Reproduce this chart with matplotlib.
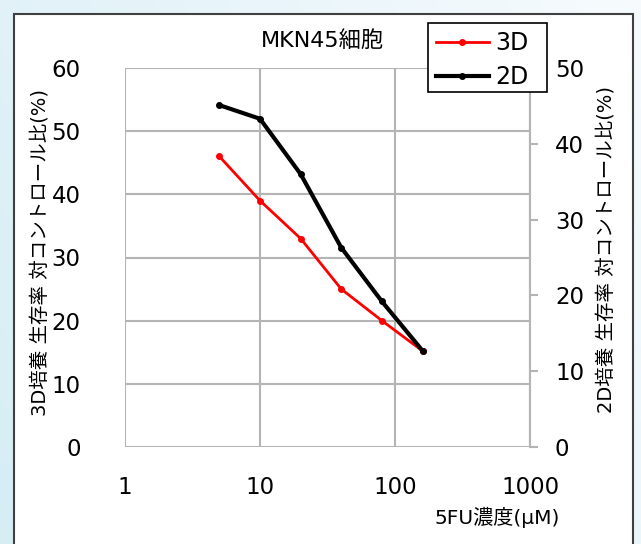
import numpy as np
import matplotlib
matplotlib.use("Agg")
import matplotlib.pyplot as plt
from matplotlib.patches import Rectangle

plt.rcParams['font.family'] = ['DejaVu Sans', 'Noto Sans CJK JP']

# 5FU concentration (uM)
conc = [5, 10, 20, 40, 80, 160]
# survival relative to control (%)
survival_3d = [46, 39, 33, 25, 20, 15.2]
survival_2d = [45.1, 43.3, 36.0, 26.3, 19.2, 12.7]

x_ticks = [1, 10, 100, 1000]
x_tick_labels = ["1", "10", "100", "1000"]
left_ticks = [0, 10, 20, 30, 40, 50, 60]
right_ticks = [0, 10, 20, 30, 40, 50]

W, H = 641, 544
fig = plt.figure(figsize=(W / 100, H / 100), dpi=100)

# soft bluish page background
bg = fig.add_axes([0, 0, 1, 1], zorder=-10)
gx = np.linspace(0, 1, 200)
gy = np.linspace(0, 1, 200)
GX, GY = np.meshgrid(gx, gy)
tone = np.clip(1 - 0.6 * GX - 0.3 * (1 - GY), 0, 1)
c0 = np.array([0.98, 0.99, 1.0])
c1 = np.array([0.84, 0.93, 0.96])
img = c0[None, None, :] * (1 - tone[..., None]) + c1[None, None, :] * tone[..., None]
bg.imshow(img, extent=[0, 1, 0, 1], aspect='auto', origin='upper')
bg.set_axis_off()

# white chart panel
panel = Rectangle((14 / W, -0.05), (633 - 14) / W, (H - 14) / H + 0.05,
                  transform=fig.transFigure, facecolor='white',
                  edgecolor='#404040', linewidth=1.5, zorder=-5)
fig.patches.append(panel)

L, R, T, B = 125, 530, 68, 447
ax = fig.add_axes([L / W, (H - B) / H, (R - L) / W, (B - T) / H])
ax.set_facecolor('none')
ax.set_xscale('log')
ax.set_xlim(1, 1000)
ax.set_ylim(0, 60)
ax.set_xticks(x_ticks)
ax.set_xticklabels(x_tick_labels)
ax.minorticks_off()
ax.set_yticks(left_ticks)
ax.grid(True, color='#b4b4b4', linewidth=1.5)
ax.set_axisbelow(True)
for s in ax.spines.values():
    s.set_visible(False)
ax.tick_params(axis='x', length=0, labelsize=16.5, pad=21)
ax.tick_params(axis='y', length=0, labelsize=16.5, pad=32)

ax2 = ax.twinx()
ax2.set_ylim(0, 50)
ax2.set_yticks(right_ticks)
for s in ax2.spines.values():
    s.set_visible(False)
ax2.spines['right'].set_visible(True)
ax2.spines['right'].set_color('#b4b4b4')
ax2.spines['right'].set_linewidth(1.5)
ax2.tick_params(axis='y', length=6, width=1.5, color='#b4b4b4',
                labelsize=16.5, pad=12)

l3, = ax.plot(conc, survival_3d, color='#ff0000', linewidth=2,
              marker='o', markersize=4, label='3D', zorder=5)
l2, = ax2.plot(conc, survival_2d, color='black', linewidth=3,
               marker='o', markersize=4, label='2D', zorder=4)

fig.text(322 / W, 1 - 40 / H, 'MKN45細胞', fontsize=16, ha='center', va='center')
fig.text(41 / W, 1 - 252 / H, '3D培養 生存率 対コントロール比(%)',
         fontsize=14, rotation=90, ha='center', va='center')
fig.text(607 / W, 1 - 250 / H, '2D培養 生存率 対コントロール比(%)',
         fontsize=14, rotation=90, ha='center', va='center')
fig.text(560 / W, 1 - 517 / H, '5FU濃度(μM)', fontsize=14.5, ha='right', va='center')

# legend box with a fixed outline
lx0, ly0, lx1, ly1 = 428, 23, 547, 92
frame = Rectangle((lx0 / W, 1 - ly1 / H), (lx1 - lx0) / W, (ly1 - ly0) / H,
                  transform=fig.transFigure, facecolor='white',
                  edgecolor='black', linewidth=1.2, zorder=8)
fig.patches.append(frame)
leg = fig.legend([l3, l2], ['3D', '2D'], loc='upper left',
                 bbox_to_anchor=(lx0 / W, 1 - ly0 / H), fontsize=17,
                 frameon=False, handlelength=2.25, borderaxespad=0,
                 labelspacing=0.45, handletextpad=0.25, borderpad=0.33)
leg.set_zorder(9)

fig.savefig('out.png', dpi=100)
